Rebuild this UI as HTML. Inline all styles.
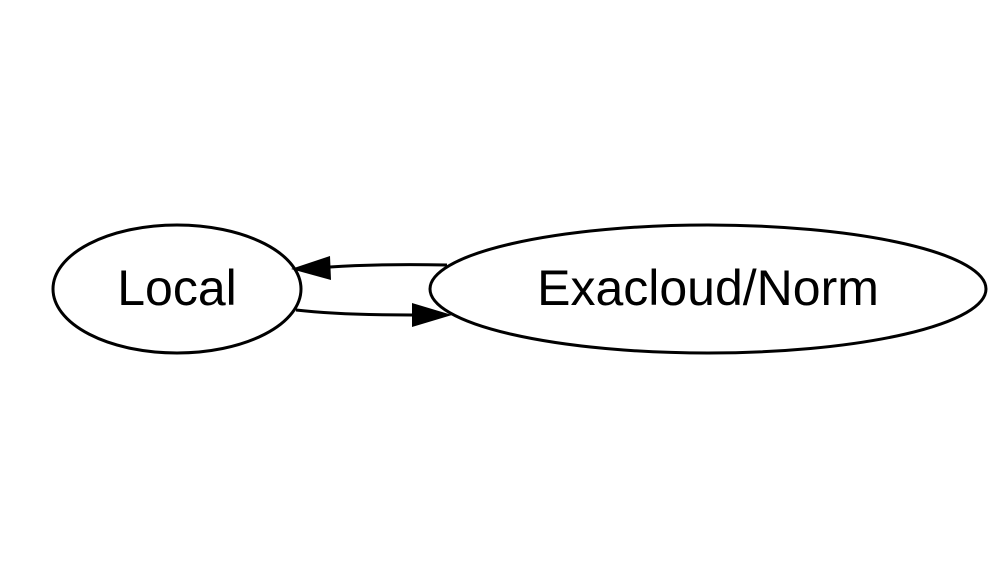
<!DOCTYPE html>
<html><head><style>html,body{margin:0;padding:0;background:#fff}</style></head>
<body>
<svg width="1000" height="580" xmlns="http://www.w3.org/2000/svg">
<rect width="1000" height="580" fill="#fff"/>
<ellipse cx="177" cy="289" rx="124" ry="64" fill="none" stroke="#000" stroke-width="3"/>
<ellipse cx="708" cy="289" rx="278" ry="64" fill="none" stroke="#000" stroke-width="3"/>
<path d="M447 265 C 400 264, 360 265, 330 267" fill="none" stroke="#000" stroke-width="3"/>
<polygon points="330,256 291,269 331,280" fill="#000"/>
<path d="M296 310 C 330 314, 370 315, 412 315" fill="none" stroke="#000" stroke-width="3"/>
<polygon points="412,303 452,315 412,327" fill="#000"/>
<text x="177" y="305" font-family="Liberation Sans, sans-serif" font-size="50" text-anchor="middle">Local</text>
<text x="708" y="305" font-family="Liberation Sans, sans-serif" font-size="50" text-anchor="middle">Exacloud/Norm</text>
</svg>
</body></html>
